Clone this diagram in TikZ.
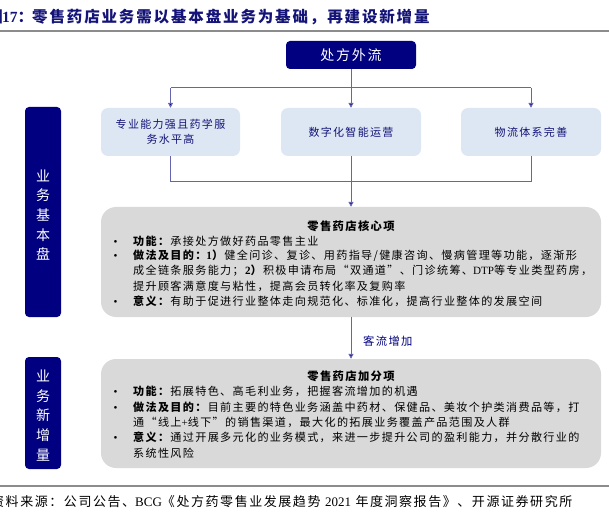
\documentclass[tikz,border=0pt]{standalone}
\usepackage{fontspec}
\setmainfont{Noto Sans CJK SC}[LetterSpace=12]
\newfontfamily\lat{Liberation Serif}
\usetikzlibrary{arrows.meta}
\definecolor{navy}{RGB}{0,0,128}
\definecolor{lblue}{RGB}{221,231,243}
\definecolor{boxgray}{RGB}{217,217,217}
\definecolor{linec}{RGB}{100,100,175}
\definecolor{rulegray}{RGB}{140,140,140}
\definecolor{titleblue}{RGB}{20,20,120}
\newcommand{\bul}{\makebox[21pt][l]{\lat\hspace{1.5pt}•}}
\tikzset{
  navybox/.style={fill=navy, draw=none, rounded corners=4pt, text=white, inner sep=0pt},
  lbox/.style={fill=lblue, draw=none, rounded corners=7pt, text=titleblue, align=center, inner sep=0pt, font=\fontsize{11}{15}\selectfont, minimum height=48pt},
  gbox/.style={fill=boxgray, draw=none, rounded corners=15pt, inner sep=0pt},
  bodyline/.style={anchor=west, inner sep=0pt, font=\fontsize{11.1}{15}\selectfont},
  boxtitle/.style={inner sep=0pt, font=\fontsize{11.3}{15}\selectfont\bfseries},
  vlabel/.style={text=white, align=center, inner sep=0pt, font=\fontsize{14}{19.7}\selectfont},
  titletext/.style={inner sep=0pt, text=titleblue, font=\fontsize{15.5}{18}\selectfont\bfseries},
  conn/.style={draw=linec, line width=1pt},
  arr/.style={conn, -{Triangle[length=5pt,width=5pt,fill=navy]}},
  rulel/.style={draw=rulegray, line width=1.6pt}
}
\begin{document}
\begin{tikzpicture}[x=1pt,y=-1pt]
\useasboundingbox (0,0) rectangle (609,526);
% title
\node[titletext, anchor=east] (tfig) at (3,17) {图};
\node[titletext, anchor=west] (tnum) at (2,17) {{\lat\bfseries 17}：};
\node[titletext, anchor=west] (title) at (32,17) {零售药店业务需以基本盘业务为基础，再建设新增量};
\coordinate (r1a) at (0,31);
\coordinate (r1b) at (609,31);
\draw[rulel] (r1a) -- (r1b);
% top box
\node[navybox, minimum width=130pt, minimum height=28pt, font=\fontsize{14}{16}\selectfont] (rx) at (351,55) {处方外流};
% three boxes
\node[lbox, minimum width=139pt] (b1) at (170.5,132) {专业能力强且药学服\\务水平高};
\node[lbox, minimum width=140pt] (b2) at (351,132) {数字化智能运营};
\node[lbox, minimum width=140pt] (b3) at (531,132) {物流体系完善};
% connectors top
\coordinate (j0) at (351,88);
\draw[conn] (rx.south) -- (j0);
\draw[conn] (b1.north |- j0) -- (b3.north |- j0);
\draw[arr] (b1.north |- j0) -- (b1.north);
\draw[arr] (j0) -- (b2.north);
\draw[arr] (b3.north |- j0) -- (b3.north);
% vertical labels
\node[navybox, minimum width=36pt, minimum height=210pt] (v1) at (43,212) {};
\node[vlabel] (v1t) at (43,215) {业\\务\\基\\本\\盘};
\node[navybox, minimum width=36pt, minimum height=112pt] (v2) at (43,413) {};
\node[vlabel] (v2t) at (43,415.5) {业\\务\\新\\增\\量};
% core box
\node[gbox, minimum width=500pt, minimum height=110pt] (core) at (351,262) {};
\coordinate (j1) at (351,182);
\draw[conn] (b1.south) -- (b1.south |- j1) -- (b3.south |- j1) -- (b3.south);
\draw[arr] (b2.south) -- (core.north);
\node[boxtitle] (c0) at (351,226) {零售药店核心项};
\node[bodyline] (c1) at (112,241) {\bul\textbf{功能：}承接处方做好药品零售主业};
\node[bodyline] (c2) at (112,256) {\bul\textbf{做法及目的：{\lat\bfseries 1}）}健全问诊、复诊、用药指导/健康咨询、慢病管理等功能，逐渐形};
\node[bodyline] (c3) at (133,271) {成全链条服务能力；\textbf{{\lat\bfseries 2}）}积极申请布局“双通道”、门诊统筹、{\lat DTP}等专业类型药房，};
\node[bodyline] (c4) at (133,286) {提升顾客满意度与粘性，提高会员转化率及复购率};
\node[bodyline] (c5) at (112,301) {\bul\textbf{意义：}有助于促进行业整体走向规范化、标准化，提高行业整体的发展空间};
% second box
\node[gbox, minimum width=500pt, minimum height=109pt] (add) at (351,413.5) {};
\draw[arr] (core.south) -- (add.north);
\node[anchor=west, inner sep=0pt, text=navy, font=\fontsize{11.3}{15}\selectfont] (flow) at (363,341) {客流增加};
\node[boxtitle] (a0) at (351,376) {零售药店加分项};
\node[bodyline] (a1) at (112,391) {\bul\textbf{功能：}拓展特色、高毛利业务，把握客流增加的机遇};
\node[bodyline] (a2) at (112,407) {\bul\textbf{做法及目的：}目前主要的特色业务涵盖中药材、保健品、美妆个护类消费品等，打};
\node[bodyline] (a3) at (133,422) {通“线上{\lat +}线下”的销售渠道，最大化的拓展业务覆盖产品范围及人群};
\node[bodyline] (a4) at (112,437) {\bul\textbf{意义：}通过开展多元化的业务模式，来进一步提升公司的盈利能力，并分散行业的};
\node[bodyline] (a5) at (133,453) {系统性风险};
% footer
\coordinate (r2a) at (0,486);
\coordinate (r2b) at (609,486);
\draw[rulel] (r2a) -- (r2b);
\node[anchor=west, inner sep=0pt, font=\fontsize{13}{16}\selectfont] (src) at (-9,502) {资料来源：公司公告、{\lat BCG}《处方药零售业发展趋势 {\lat 2021} 年度洞察报告》、开源证券研究所};
\end{tikzpicture}
\end{document}
